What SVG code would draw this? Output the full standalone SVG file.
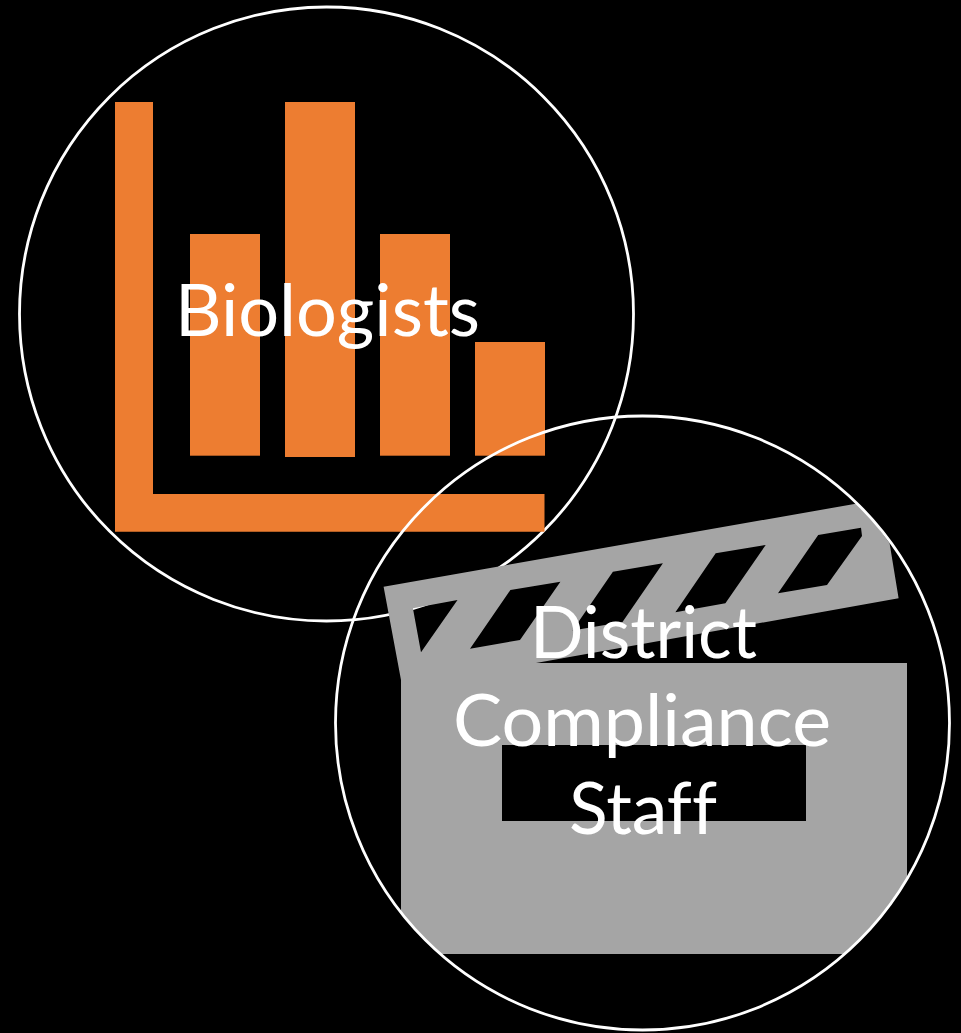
<svg xmlns="http://www.w3.org/2000/svg" width="961" height="1033" viewBox="0 0 961 1033">
<style>
.ring{fill:none;stroke:#fff;stroke-width:2.8}
.bar{fill:#ed7d31}
.lbl{font-family:"Lato","Liberation Sans",sans-serif;font-size:71px;fill:#fff;text-anchor:middle;font-variant-ligatures:none}
</style>
<defs>
<clipPath id="c2"><circle cx="642.5" cy="723" r="307"/></clipPath>
</defs>
<rect width="961" height="1033" fill="#000"/>
<g id="biologists">
<circle class="ring" cx="326.5" cy="314" r="307"/>
<path class="bar" d="M115 102H153V494H544.5V531.7H115Z"/>
<rect class="bar" x="190" y="234" width="70" height="221.7"/>
<rect class="bar" x="285" y="102" width="70" height="355"/>
<rect class="bar" x="380" y="234" width="70" height="221.7"/>
<rect class="bar" x="475" y="342" width="70" height="113.7"/>
</g>
<g id="district-compliance-staff">
<g clip-path="url(#c2)">
<path fill="#a5a5a5" fill-rule="evenodd" d="M383.6 586.7L860 503L889.6 543.3L898.6 598.3L536 663H907V954H401V680Z
M412.9 608.3L457.5 600L421 652.3Z
M510.4 590L560.4 581.7L520 640L470 648.7Z
M612.9 571.7L662.9 563.3L622.5 622L572.5 630.4Z
M715.7 553.3L765.7 545L725.4 603.3L675.4 612.3Z
M818.2 535L861 527.7L862 536L827 585L778 593.3Z
M502 745V821H806V745Z"/>
</g>
<circle class="ring" cx="642.5" cy="723" r="307"/>
</g>
<g id="labels">
<text class="lbl" x="327.5" y="336" textLength="305" lengthAdjust="spacingAndGlyphs">Biologists</text>
<text class="lbl" x="643.5" y="657.7" textLength="227" lengthAdjust="spacingAndGlyphs">District</text>
<text class="lbl" x="642" y="745.5" textLength="378" lengthAdjust="spacingAndGlyphs">Compliance</text>
<text class="lbl" x="643" y="833.5" textLength="148" lengthAdjust="spacingAndGlyphs">Staff</text>
</g>
</svg>
